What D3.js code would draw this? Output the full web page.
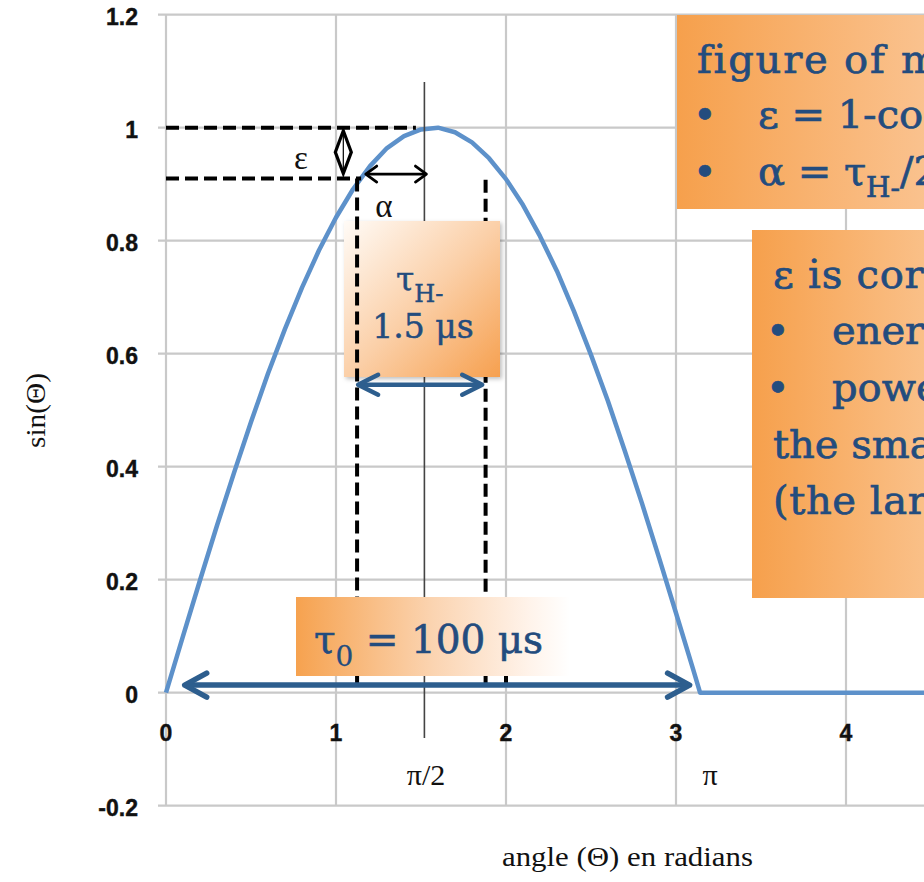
<!DOCTYPE html>
<html>
<head>
<meta charset="utf-8">
<script src="https://cdn.jsdelivr.net/npm/d3@7"></script>
<style>
  html, body { margin: 0; padding: 0; background: #ffffff; overflow: hidden; }
  svg { display: block; }
</style>
</head>
<body>
<svg id="chart" width="924" height="882"></svg>
<script>
// sin(theta) sampled every 0.1 rad over one half period, flat at zero afterwards
const theta = [0, 0.1, 0.2, 0.3, 0.4, 0.5, 0.6, 0.7, 0.8, 0.9, 1.0, 1.1, 1.2, 1.3, 1.4, 1.5,
  1.6, 1.7, 1.8, 1.9, 2.0, 2.1, 2.2, 2.3, 2.4, 2.5, 2.6, 2.7, 2.8, 2.9, 3.0, 3.1, 3.1416,
  4.0, 5.0, 5.5];
const sinValues = [0, 0.100, 0.199, 0.296, 0.389, 0.479, 0.565, 0.644, 0.717, 0.783, 0.841,
  0.891, 0.932, 0.964, 0.985, 0.997, 1.000, 0.992, 0.974, 0.946, 0.909, 0.863, 0.808, 0.746,
  0.675, 0.598, 0.516, 0.427, 0.335, 0.239, 0.141, 0.042, 0, 0, 0, 0];

const xTicks = [0, 1, 2, 3, 4, 5];
const yTicks = [-0.2, 0, 0.2, 0.4, 0.6, 0.8, 1, 1.2];
const yTickLabels = ["-0.2", "0", "0.2", "0.4", "0.6", "0.8", "1", "1.2"];

// annotation positions, in data units
const epsLevels = [1, 0.91];          // top of the pulse and level reached at the edge of tau_H-
const edgeX = [1.124, 1.88];          // edges of the tau_H- window
const centerX = 1.52;                 // thin marker at pi/2
const tauHArrow = { x: [1.13, 1.86], y: 0.545 };
const tau0Arrow = { x: [0.11, 3.08], y: 0.0135 };
const alphaArrow = { x: [1.175, 1.532], y: 0.918 };
const piMarks = [
  { x: 1.53, label: "π/2" },
  { x: 3.2, label: "π" }
];

const svg = d3.select("#chart");
const x = d3.scaleLinear().domain([0, 5]).range([166, 1016]);
const y = d3.scaleLinear().domain([-0.2, 1.2]).range([805.7, 14.7]);

const defs = svg.append("defs");
function linGrad(id, x1, y1, x2, y2, stops) {
  const g = defs.append("linearGradient").attr("id", id)
    .attr("x1", x1).attr("y1", y1).attr("x2", x2).attr("y2", y2);
  stops.forEach(s => g.append("stop").attr("offset", s[0]).attr("stop-color", s[1]));
}
linGrad("gradSide", "0", "0", "1", "0", [[0, "#f6a04c"], [1, "#fbc99c"]]);
linGrad("gradSide2", "0", "0", "1", "0", [[0, "#f6a04c"], [1, "#fcd0a6"]]);
linGrad("gradTauH", "0", "0", "1", "1", [[0, "#fffbf7"], [0.5, "#fbd0a9"], [1, "#f6a04f"]]);
linGrad("gradTau0", "0", "0", "1", "0", [[0, "#f6a24f"], [0.5, "#fbd4b1"], [0.85, "#fff3ea"], [1, "#ffffff"]]);

const shadow = defs.append("filter").attr("id", "shadow")
  .attr("x", "-10%").attr("y", "-10%").attr("width", "130%").attr("height", "130%");
shadow.append("feDropShadow").attr("dx", 2).attr("dy", 2).attr("stdDeviation", 2)
  .attr("flood-color", "#000").attr("flood-opacity", 0.25);

// grid
const grid = svg.append("g").attr("stroke", "#c9c9c9").attr("stroke-width", 2.2);
grid.selectAll("line.h").data(yTicks).join("line")
  .attr("x1", x(0) - 8).attr("x2", 924)
  .attr("y1", d => y(d)).attr("y2", d => y(d));
grid.selectAll("line.v").data(xTicks).join("line")
  .attr("x1", d => x(d)).attr("x2", d => x(d))
  .attr("y1", y(1.2)).attr("y2", y(-0.2));

// tick labels
const tickFont = "'Liberation Sans', Arial, sans-serif";
svg.append("g").selectAll("text").data(yTicks).join("text")
  .attr("x", 138).attr("y", d => y(d) + 10)
  .attr("text-anchor", "end")
  .attr("font-family", tickFont).attr("font-weight", "bold").attr("font-size", 23)
  .attr("fill", "#111").attr("stroke", "#111").attr("stroke-width", 0.4)
  .text((d, i) => yTickLabels[i]);
svg.append("g").selectAll("text").data(xTicks.slice(0, 5)).join("text")
  .attr("x", d => x(d)).attr("y", 741)
  .attr("text-anchor", "middle")
  .attr("font-family", tickFont).attr("font-weight", "bold").attr("font-size", 23)
  .attr("fill", "#111").attr("stroke", "#111").attr("stroke-width", 0.4)
  .text(d => d);

// axis titles
const serif = "'Liberation Serif', 'Times New Roman', serif";
svg.append("text")
  .attr("x", 502).attr("y", 866)
  .attr("font-family", serif).attr("font-size", 28).attr("fill", "#111")
  .attr("textLength", 251).attr("lengthAdjust", "spacingAndGlyphs")
  .text("angle (Θ) en radians");
svg.append("text")
  .attr("transform", "translate(45,448) rotate(-90)")
  .attr("font-family", serif).attr("font-size", 28).attr("fill", "#111")
  .attr("textLength", 75).attr("lengthAdjust", "spacingAndGlyphs")
  .text("sin(Θ)");

// pi labels
svg.append("g").selectAll("text").data(piMarks).join("text")
  .attr("x", d => x(d.x)).attr("y", 785).attr("text-anchor", "middle")
  .attr("font-family", serif).attr("font-size", 30).attr("fill", "#111")
  .text(d => d.label);

// the pulse
const line = d3.line().x((d, i) => x(theta[i])).y(d => y(d));
svg.append("path").datum(sinValues)
  .attr("fill", "none").attr("stroke", "#5d91ca").attr("stroke-width", 4.5)
  .attr("stroke-linejoin", "round")
  .attr("d", line);

// thin marker at pi/2
svg.append("line")
  .attr("x1", x(centerX)).attr("x2", x(centerX))
  .attr("y1", 82).attr("y2", 738)
  .attr("stroke", "#444").attr("stroke-width", 1.6);

const dash = "13,6";
// right edge of the tau_H- window (sits under the box)
svg.append("line")
  .attr("x1", x(edgeX[1])).attr("x2", x(edgeX[1]))
  .attr("y1", y(0.908)).attr("y2", y(0.005))
  .attr("stroke", "#000").attr("stroke-width", 4).attr("stroke-dasharray", dash);

// tau_H- box
svg.append("rect").attr("x", 344).attr("y", 221).attr("width", 156).attr("height", 156)
  .attr("fill", "url(#gradTauH)").attr("filter", "url(#shadow)");

// left edge dashed line and the two level lines
svg.append("line")
  .attr("x1", x(edgeX[0])).attr("x2", x(edgeX[0]))
  .attr("y1", y(epsLevels[1])).attr("y2", y(0.015))
  .attr("stroke", "#000").attr("stroke-width", 4).attr("stroke-dasharray", dash);
svg.append("line")
  .attr("x1", x(0)).attr("x2", x(1.47))
  .attr("y1", y(epsLevels[0])).attr("y2", y(epsLevels[0]))
  .attr("stroke", "#000").attr("stroke-width", 4).attr("stroke-dasharray", dash);
svg.append("line")
  .attr("x1", x(0)).attr("x2", x(edgeX[0]) + 4)
  .attr("y1", y(epsLevels[1])).attr("y2", y(epsLevels[1]))
  .attr("stroke", "#000").attr("stroke-width", 4).attr("stroke-dasharray", dash);
svg.append("line")
  .attr("x1", x(2)).attr("x2", x(2))
  .attr("y1", y(0.03)).attr("y2", y(0.012))
  .attr("stroke", "#000").attr("stroke-width", 4);

// epsilon marker: small double arrow between the two levels
const ex = x(1.043), eTop = y(epsLevels[0]) + 3, eBot = y(epsLevels[1]) - 5;
const eMid = (eTop + eBot) / 2;
svg.append("path")
  .attr("d", `M${ex},${eTop} L${ex + 8},${eMid} L${ex},${eBot} L${ex - 8},${eMid} Z`)
  .attr("fill", "none").attr("stroke", "#000").attr("stroke-width", 3.2).attr("stroke-linejoin", "miter");
svg.append("line").attr("x1", ex).attr("x2", ex).attr("y1", eTop + 4).attr("y2", eBot - 4)
  .attr("stroke", "#000").attr("stroke-width", 1.2);
svg.append("text").attr("x", 301).attr("y", 169).attr("text-anchor", "middle")
  .attr("font-family", serif).attr("font-size", 33).attr("fill", "#111").text("ε");
svg.append("text").attr("x", 384).attr("y", 217).attr("text-anchor", "middle")
  .attr("font-family", serif).attr("font-size", 33).attr("fill", "#111").text("α");

// arrows
function doubleArrow(x1, x2, yy, color, width, head, half) {
  const g = svg.append("g").attr("fill", "none").attr("stroke", color)
    .attr("stroke-width", width).attr("stroke-linecap", "round").attr("stroke-linejoin", "round");
  g.append("line").attr("x1", x1 + 2).attr("x2", x2 - 2).attr("y1", yy).attr("y2", yy);
  g.append("path").attr("d", `M${x1 + head},${yy - half} L${x1},${yy} L${x1 + head},${yy + half}`);
  g.append("path").attr("d", `M${x2 - head},${yy - half} L${x2},${yy} L${x2 - head},${yy + half}`);
}
doubleArrow(x(alphaArrow.x[0]), x(alphaArrow.x[1]), y(alphaArrow.y), "#000", 2.8, 11, 8);
doubleArrow(x(tauHArrow.x[0]), x(tauHArrow.x[1]), y(tauHArrow.y), "#2d5e8e", 4.5, 20, 10);

// tau_0 box
svg.append("rect").attr("x", 296).attr("y", 597).attr("width", 274).attr("height", 79)
  .attr("fill", "url(#gradTau0)");
doubleArrow(x(tau0Arrow.x[0]), x(tau0Arrow.x[1]), y(tau0Arrow.y), "#2d5e8e", 5.5, 22, 12);

const blue = "#234c7e";
const slab = "'DejaVu Serif', 'Liberation Serif', serif";

// tau_H- label
const th = svg.append("text").attr("font-family", slab).attr("fill", blue).attr("font-size", 33)
  .attr("stroke", blue).attr("stroke-width", 0.5);
th.append("tspan").attr("x", 396).attr("y", 291).text("τ");
th.append("tspan").attr("dy", 11).attr("font-size", 24).text("H-");
svg.append("text").attr("x", 423).attr("y", 338).attr("text-anchor", "middle")
  .attr("font-family", slab).attr("fill", blue).attr("font-size", 33)
  .attr("stroke", blue).attr("stroke-width", 0.5).text("1.5 μs");

// tau_0 label
const t0 = svg.append("text").attr("font-family", slab).attr("fill", blue).attr("font-size", 39)
  .attr("stroke", blue).attr("stroke-width", 0.6);
t0.append("tspan").attr("x", 314).attr("y", 653).text("τ");
t0.append("tspan").attr("dy", 13).attr("font-size", 28).attr("stroke-width", 0.3).text("0");
t0.append("tspan").attr("dy", -13).text(" = 100 μs");

// side notes
svg.append("rect").attr("x", 677).attr("y", 15).attr("width", 300).attr("height", 194)
  .attr("fill", "url(#gradSide)");
svg.append("rect").attr("x", 752).attr("y", 230).attr("width", 260).attr("height", 368)
  .attr("fill", "url(#gradSide2)");

const noteFont = 40;
function note(xx, yy) {
  return svg.append("text").attr("font-family", slab).attr("fill", blue)
    .attr("stroke", blue).attr("stroke-width", 0.7)
    .attr("font-size", noteFont).attr("x", xx).attr("y", yy);
}
note(697, 73).attr("letter-spacing", 1.8).text("figure of merit");
note(693, 128).text("•");
note(758, 128).text("ε = 1-cos α");
note(693, 185).text("•");
const al = note(758, 185);
al.append("tspan").text("α = τ");
al.append("tspan").attr("dy", 12).attr("font-size", 28).text("H-");
al.append("tspan").attr("dy", -12).text("/2τ");

note(773, 288).attr("letter-spacing", 0.8).text("ε is correlated to");
note(766, 344).text("•");
note(832, 344).text("energy");
note(766, 401).text("•");
note(832, 401).text("power");
note(773, 458).text("the smaller ε");
note(773, 514).attr("letter-spacing", 0.6).text("(the larger α)");
</script>
</body>
</html>
